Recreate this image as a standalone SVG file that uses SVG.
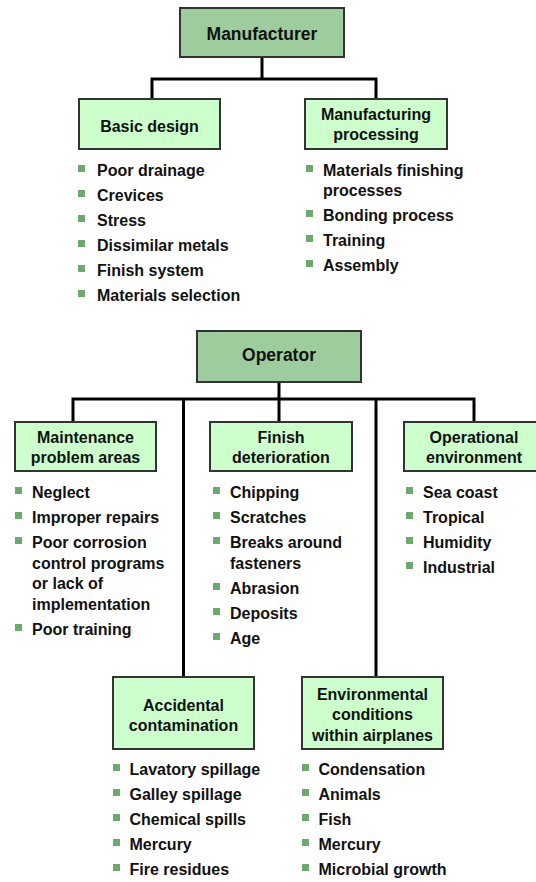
<svg xmlns="http://www.w3.org/2000/svg" width="536" height="882" viewBox="0 0 536 882">
<style>
.main{fill:#9dcc9d;stroke:#333;stroke-width:2}
.sub{fill:#ccffcc;stroke:#333;stroke-width:2}
.t{font-family:"Liberation Sans",Arial,sans-serif;font-weight:bold;fill:#111}
.h1{font-size:17.5px;text-anchor:middle}
.h2{font-size:16px;text-anchor:middle}
.li{font-size:16px}
.b{fill:#6aaa6a}
.c{fill:none;stroke:#000;stroke-width:3}
</style>
<defs><rect id="bl" width="7" height="7" class="b"/></defs>
<rect width="536" height="882" fill="#fff"/>
<g id="connectors">
<path class="c" d="M262 57V79M152 99V79H376V99"/>
<path class="c" d="M279 382V399M73 422V399H474V422M183.5 399V677M279 399V422M376 399V677"/>
</g>
<g id="manufacturer">
<rect class="main" x="180" y="8" width="164" height="49"/>
<text class="t h1" x="262" y="40">Manufacturer</text>
</g>
<g id="basic-design">
<rect class="sub" x="79" y="99" width="141" height="50"/>
<text class="t h2" x="149.5" y="131.5">Basic design</text>
<use href="#bl" x="78" y="165"/><use href="#bl" x="78" y="190"/><use href="#bl" x="78" y="215"/><use href="#bl" x="78" y="240"/><use href="#bl" x="78" y="265"/><use href="#bl" x="78" y="290"/>
<text class="t li" x="97" y="176">Poor drainage</text>
<text class="t li" x="97" y="201">Crevices</text>
<text class="t li" x="97" y="226">Stress</text>
<text class="t li" x="97" y="251">Dissimilar metals</text>
<text class="t li" x="97" y="276">Finish system</text>
<text class="t li" x="97" y="301">Materials selection</text>
</g>
<g id="manufacturing-processing">
<rect class="sub" x="305" y="99" width="142" height="50"/>
<text class="t h2" x="376" y="119.5">Manufacturing</text>
<text class="t h2" x="376" y="140">processing</text>
<use href="#bl" x="306" y="165"/><use href="#bl" x="306" y="210"/><use href="#bl" x="306" y="235"/><use href="#bl" x="306" y="260"/>
<text class="t li" x="323" y="176">Materials finishing</text>
<text class="t li" x="323" y="196">processes</text>
<text class="t li" x="323" y="221">Bonding process</text>
<text class="t li" x="323" y="246">Training</text>
<text class="t li" x="323" y="271">Assembly</text>
</g>
<g id="operator">
<rect class="main" x="197" y="331" width="164" height="51"/>
<text class="t h1" x="279" y="361">Operator</text>
</g>
<g id="maintenance">
<rect class="sub" x="15" y="422" width="141" height="49"/>
<text class="t h2" x="85.5" y="443">Maintenance</text>
<text class="t h2" x="85.5" y="463">problem areas</text>
<use href="#bl" x="15" y="487"/><use href="#bl" x="15" y="512"/><use href="#bl" x="15" y="537"/><use href="#bl" x="15" y="624"/>
<text class="t li" x="32" y="498">Neglect</text>
<text class="t li" x="32" y="523">Improper repairs</text>
<text class="t li" x="32" y="548">Poor corrosion</text>
<text class="t li" x="32" y="568.5">control programs</text>
<text class="t li" x="32" y="589">or lack of</text>
<text class="t li" x="32" y="609.5">implementation</text>
<text class="t li" x="32" y="635">Poor training</text>
</g>
<g id="finish">
<rect class="sub" x="210" y="422" width="142" height="49"/>
<text class="t h2" x="281" y="443">Finish</text>
<text class="t h2" x="281" y="463">deterioration</text>
<use href="#bl" x="213" y="487"/><use href="#bl" x="213" y="512"/><use href="#bl" x="213" y="537"/><use href="#bl" x="213" y="583"/><use href="#bl" x="213" y="608"/><use href="#bl" x="213" y="633"/>
<text class="t li" x="230" y="498">Chipping</text>
<text class="t li" x="230" y="523">Scratches</text>
<text class="t li" x="230" y="548">Breaks around</text>
<text class="t li" x="230" y="568.5">fasteners</text>
<text class="t li" x="230" y="594">Abrasion</text>
<text class="t li" x="230" y="619">Deposits</text>
<text class="t li" x="230" y="644">Age</text>
</g>
<g id="operational">
<rect class="sub" x="404" y="422" width="141" height="49"/>
<text class="t h2" x="474" y="443">Operational</text>
<text class="t h2" x="474" y="463">environment</text>
<use href="#bl" x="406" y="487"/><use href="#bl" x="406" y="512"/><use href="#bl" x="406" y="537"/><use href="#bl" x="406" y="562"/>
<text class="t li" x="423" y="498">Sea coast</text>
<text class="t li" x="423" y="523">Tropical</text>
<text class="t li" x="423" y="548">Humidity</text>
<text class="t li" x="423" y="573">Industrial</text>
</g>
<g id="accidental">
<rect class="sub" x="113" y="677" width="141" height="72"/>
<text class="t h2" x="183.5" y="711">Accidental</text>
<text class="t h2" x="183.5" y="731">contamination</text>
<use href="#bl" x="113" y="764"/><use href="#bl" x="113" y="789"/><use href="#bl" x="113" y="814"/><use href="#bl" x="113" y="839"/><use href="#bl" x="113" y="864"/>
<text class="t li" x="129.5" y="775">Lavatory spillage</text>
<text class="t li" x="129.5" y="800">Galley spillage</text>
<text class="t li" x="129.5" y="825">Chemical spills</text>
<text class="t li" x="129.5" y="850">Mercury</text>
<text class="t li" x="129.5" y="875">Fire residues</text>
</g>
<g id="environmental">
<rect class="sub" x="302" y="677" width="141" height="72"/>
<text class="t h2" x="372.5" y="699.5">Environmental</text>
<text class="t h2" x="372.5" y="720">conditions</text>
<text class="t h2" x="372.5" y="740.5">within airplanes</text>
<use href="#bl" x="302" y="764"/><use href="#bl" x="302" y="789"/><use href="#bl" x="302" y="814"/><use href="#bl" x="302" y="839"/><use href="#bl" x="302" y="864"/>
<text class="t li" x="318.5" y="775">Condensation</text>
<text class="t li" x="318.5" y="800">Animals</text>
<text class="t li" x="318.5" y="825">Fish</text>
<text class="t li" x="318.5" y="850">Mercury</text>
<text class="t li" x="318.5" y="875">Microbial growth</text>
</g>
</svg>
